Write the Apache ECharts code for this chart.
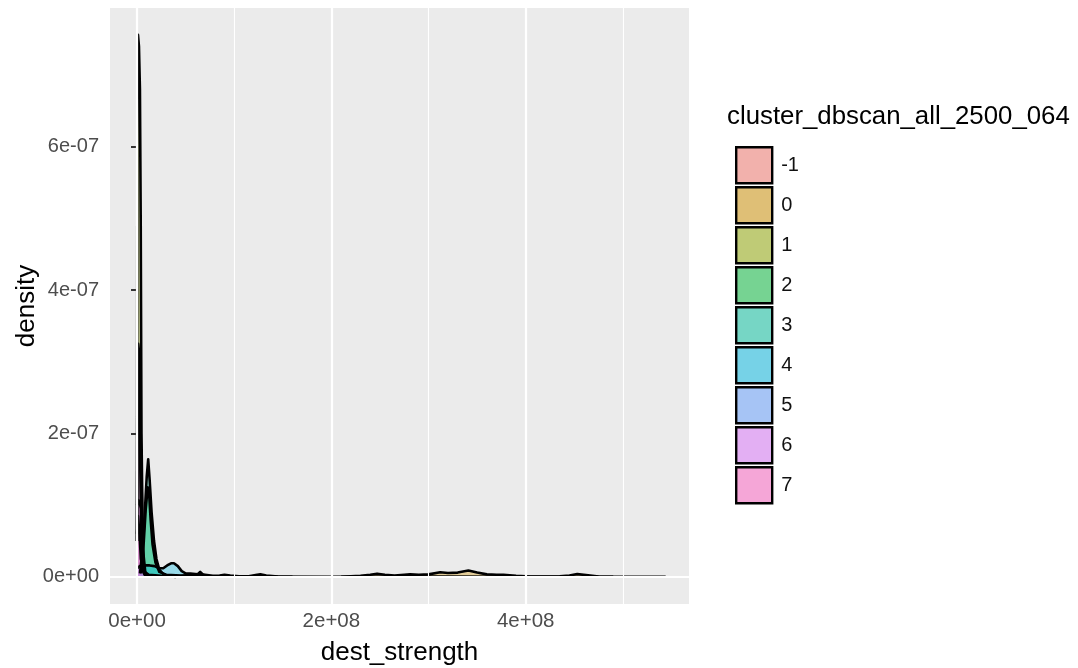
<!DOCTYPE html>
<html>
<head>
<meta charset="utf-8">
<script src="https://cdn.jsdelivr.net/npm/echarts@6/dist/echarts.min.js"></script>
<style>
html,body{margin:0;padding:0;background:#fff;}
#c{width:1078px;height:668px;}
</style>
</head>
<body>
<div id="c"></div>
<script>
// ---------- data ----------
const clusters = ['-1', '0', '1', '2', '3', '4', '5', '6', '7'];
const clusterColors = ['#F8766D', '#D39200', '#93AA00', '#00BA38', '#00C19F', '#00B9E3', '#619CFF', '#DB72FB', '#FF61C3'];

const xTicks = [0, 2e8, 4e8];
const xMinor = [1e8, 3e8, 5e8];
const yTicks = [0, 2e-7, 4e-7, 6e-7];
const yMinor = [1e-7, 3e-7, 5e-7, 7e-7];

// cluster -1
const xM1 = [0, 1e6, 2.5e6, 4e6, 7e6, 1.2e7, 2.5e7, 5e7, 1e8, 2e8, 3e8, 4e8, 5.44e8];
const yM1 = [0.6e-7, 0.85e-7, 0.6e-7, 0.25e-7, 0.08e-7, 0.03e-7, 0.015e-7, 0.01e-7, 0.005e-7, 0.003e-7, 0.004e-7, 0.002e-7, 0.001e-7];
// cluster 0
const x0 = [2.1e8, 2.3e8, 2.4e8, 2.47e8, 2.55e8, 2.65e8, 2.75e8, 2.81e8, 2.9e8, 3.0e8, 3.12e8, 3.2e8, 3.3e8, 3.41e8, 3.5e8, 3.6e8, 3.7e8, 3.77e8, 3.9e8, 4.05e8, 4.2e8, 4.35e8, 4.45e8, 4.53e8, 4.62e8, 4.75e8, 4.9e8];
const y0 = [0.003e-7, 0.015e-7, 0.03e-7, 0.045e-7, 0.03e-7, 0.02e-7, 0.03e-7, 0.035e-7, 0.03e-7, 0.035e-7, 0.065e-7, 0.055e-7, 0.06e-7, 0.09e-7, 0.06e-7, 0.035e-7, 0.03e-7, 0.03e-7, 0.015e-7, 0.006e-7, 0.004e-7, 0.008e-7, 0.02e-7, 0.04e-7, 0.025e-7, 0.006e-7, 0.001e-7];
// cluster 1
const x1 = [0, 0.4e6, 1.0e6, 2.0e6, 3.0e6, 3.8e6, 4.6e6, 6e6, 9e6];
const y1 = [0.5e-7, 7.3e-7, 7.56e-7, 7.4e-7, 6.8e-7, 5.0e-7, 2.0e-7, 0.4e-7, 0];
// cluster 2
const x2 = [4e6, 7e6, 9e6, 1.1e7, 1.25e7, 1.4e7, 1.6e7, 1.9e7, 2.3e7, 3e7, 4.5e7, 6.2e7, 6.5e7, 6.8e7, 7.5e7];
const y2 = [0.05e-7, 0.5e-7, 0.95e-7, 1.25e-7, 1.15e-7, 0.8e-7, 0.45e-7, 0.2e-7, 0.07e-7, 0.03e-7, 0.02e-7, 0.03e-7, 0.07e-7, 0.03e-7, 0.002e-7];
// cluster 3
const x3 = [3e6, 6e6, 8e6, 1e7, 1.15e7, 1.3e7, 1.5e7, 1.75e7, 2.0e7, 2.3e7, 2.7e7, 3.2e7, 4e7];
const y3 = [0.05e-7, 0.4e-7, 0.9e-7, 1.4e-7, 1.64e-7, 1.35e-7, 0.9e-7, 0.5e-7, 0.25e-7, 0.1e-7, 0.04e-7, 0.01e-7, 0];
// cluster 4
const x4 = [0, 3e6, 8e6, 1.3e7, 1.8e7, 2.3e7, 2.7e7, 3.1e7, 3.5e7, 3.8e7, 4.2e7, 4.6e7, 5.0e7, 5.5e7, 6.0e7, 7.0e7, 7.8e7, 8.5e7, 9e7, 9.6e7, 1.05e8, 1.15e8, 1.22e8, 1.27e8, 1.33e8, 1.45e8, 1.6e8];
const y4 = [0.12e-7, 0.15e-7, 0.16e-7, 0.16e-7, 0.15e-7, 0.12e-7, 0.12e-7, 0.16e-7, 0.19e-7, 0.19e-7, 0.15e-7, 0.08e-7, 0.05e-7, 0.045e-7, 0.04e-7, 0.03e-7, 0.015e-7, 0.02e-7, 0.03e-7, 0.02e-7, 0.008e-7, 0.01e-7, 0.025e-7, 0.035e-7, 0.02e-7, 0.005e-7, 0.001e-7];
// cluster 5
const x5 = [0, 0.4e6, 1.2e6, 2.4e6, 3.4e6, 4.5e6, 6e6, 9e6];
const y5 = [0.5e-7, 3.15e-7, 3.25e-7, 3.1e-7, 1.5e-7, 0.4e-7, 0.08e-7, 0];
// cluster 6
const x6 = [0, 1.5e6, 3e6, 4.5e6, 5.5e6, 6.5e6, 8e6, 1.1e7];
const y6 = [1.0e-7, 1.07e-7, 1.05e-7, 0.95e-7, 0.6e-7, 0.25e-7, 0.05e-7, 0];
// cluster 7
const x7 = [0, 0.5e6, 1.5e6, 3e6, 4.5e6, 5.5e6, 7e6, 9e6];
const y7 = [0.5e-7, 2.4e-7, 2.5e-7, 2.3e-7, 1.5e-7, 0.6e-7, 0.1e-7, 0];

const seriesX = [xM1, x0, x1, x2, x3, x4, x5, x6, x7];
const seriesY = [yM1, y0, y1, y2, y3, y4, y5, y6, y7];

// ---------- helpers ----------
function sci(v) {
  if (v === 0) return '0e+00';
  const e = Math.floor(Math.log10(Math.abs(v)) + 1e-9);
  const m = Math.round(v / Math.pow(10, e));
  return m + 'e' + (e < 0 ? '-' : '+') + String(Math.abs(e)).padStart(2, '0');
}
function rgba(hex, a) {
  const n = parseInt(hex.slice(1), 16);
  return 'rgba(' + (n >> 16 & 255) + ',' + (n >> 8 & 255) + ',' + (n & 255) + ',' + a + ')';
}
// colour of a half-transparent fill seen over the grey legend key background
function overGrey(hex, a, g) {
  const n = parseInt(hex.slice(1), 16);
  const c = [n >> 16 & 255, n >> 8 & 255, n & 255].map(v => Math.round(v * a + g * (1 - a)));
  return 'rgb(' + c.join(',') + ')';
}
const FONT = '"Liberation Sans", Arial, Helvetica, sans-serif';

const densitySeries = clusters.map((name, i) => ({
  name: name,
  type: 'line',
  z: 3,
  color: clusterColors[i],
  showSymbol: false,
  symbol: 'none',
  silent: true,
  data: seriesX[i].map((x, k) => [x, seriesY[i][k]]),
  lineStyle: { color: '#000', width: 2.6, join: 'round' },
  areaStyle: { color: rgba(clusterColors[i], 0.5), origin: 0 }
}));

function gridSeries(xs, ys, w) {
  return {
    type: 'line',
    z: 1,
    silent: true,
    showSymbol: false,
    data: [[0, 0]],
    lineStyle: { opacity: 0 },
    markLine: {
      silent: true,
      symbol: ['none', 'none'],
      label: { show: false },
      animation: false,
      lineStyle: { color: '#ffffff', width: w, type: 'solid' },
      data: xs.map(v => ({ xAxis: v })).concat(ys.map(v => ({ yAxis: v })))
    }
  };
}

const chart = echarts.init(document.getElementById('c'), null, { renderer: 'canvas' });
chart.setOption({
  animation: false,
  backgroundColor: '#ffffff',
  textStyle: { fontFamily: FONT },
  title: {
    text: 'cluster_dbscan_all_2500_064',
    left: 727, top: 104, padding: 0,
    textStyle: { fontSize: 25.8, fontWeight: 'normal', color: '#000', fontFamily: FONT }
  },
  legend: {
    orient: 'vertical',
    left: 730, top: 141,
    itemWidth: 36, itemHeight: 36, itemGap: 1.6,
    icon: 'rect',
    selectedMode: false,
    itemStyle: { borderColor: '#000', borderWidth: 2.4 },
    textStyle: { fontSize: 20, color: '#111', fontFamily: FONT, padding: [0, 0, 0, 4] },
    data: clusters.map((c, i) => ({ name: c, itemStyle: { color: overGrey(clusterColors[i], 0.5, 235), borderColor: '#000', borderWidth: 2.4 } }))
  },
  grid: {
    left: 110, right: 389, top: 8, bottom: 64,
    show: true, backgroundColor: '#EBEBEB', borderWidth: 0,
    containLabel: false, outerBoundsMode: 'none'
  },
  xAxis: {
    type: 'value',
    min: -2.78e7, max: 5.68e8,
    name: 'dest_strength',
    nameLocation: 'middle', nameGap: 36, nameMoveOverlap: false,
    nameTextStyle: { fontSize: 26, color: '#000', fontFamily: FONT },
    axisLine: { show: false },
    splitLine: { show: false },
    axisTick: { show: true, customValues: xTicks, length: 6, lineStyle: { color: '#333', width: 2 } },
    axisLabel: { customValues: xTicks, formatter: sci, margin: 7, fontSize: 20.5, color: '#4D4D4D', fontFamily: FONT }
  },
  yAxis: {
    type: 'value',
    min: -3.78e-8, max: 7.934e-7,
    name: 'density',
    nameLocation: 'middle', nameGap: 70, nameRotate: 90, nameMoveOverlap: false,
    nameTextStyle: { fontSize: 26, color: '#000', fontFamily: FONT },
    axisLine: { show: false },
    splitLine: { show: false },
    axisTick: { show: true, customValues: yTicks, length: 6, lineStyle: { color: '#333', width: 2 } },
    axisLabel: { customValues: yTicks, formatter: sci, margin: 11, fontSize: 20, color: '#4D4D4D', fontFamily: FONT }
  },
  series: [gridSeries(xMinor, yMinor, 1.1), gridSeries(xTicks, yTicks, 2.2)].concat(densitySeries)
});
</script>
</body>
</html>
